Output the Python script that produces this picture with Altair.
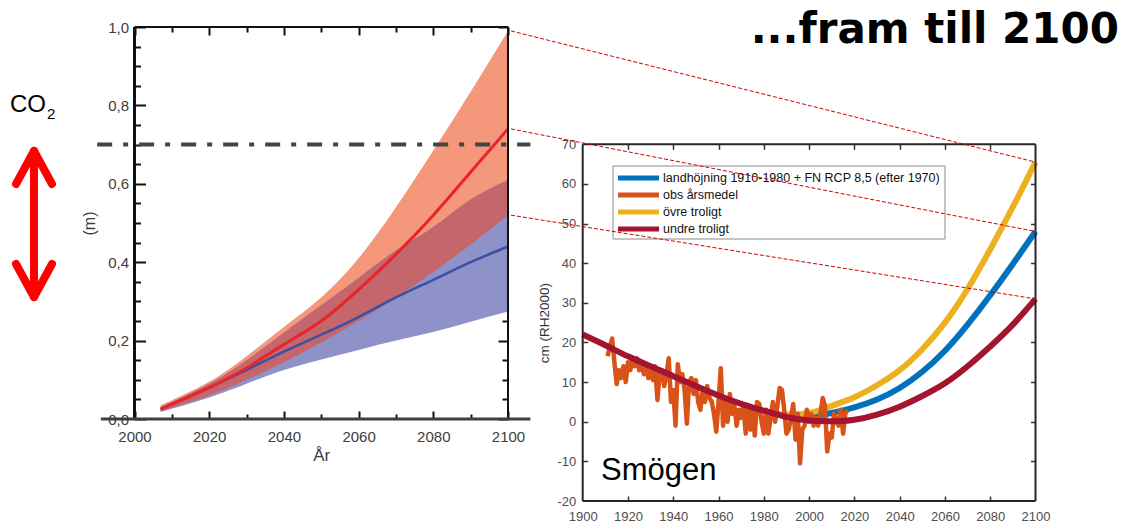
import altair as alt
import pandas as pd

W, H = 1127, 526

# ---------------- left panel: global sea level rise (m) ----------------
l_years   = [2007, 2020, 2030, 2040, 2050, 2060, 2070, 2080, 2090, 2100]
rcp85_mid = [0.025, 0.08, 0.13, 0.19, 0.25, 0.33, 0.42, 0.52, 0.63, 0.74]
rcp85_lo  = [0.02, 0.06, 0.10, 0.145, 0.195, 0.25, 0.31, 0.375, 0.445, 0.52]
rcp85_hi  = [0.035, 0.095, 0.16, 0.235, 0.31, 0.41, 0.54, 0.685, 0.835, 0.99]
rcp26_mid = [0.025, 0.08, 0.125, 0.172, 0.215, 0.26, 0.31, 0.355, 0.40, 0.44]
rcp26_lo  = [0.018, 0.055, 0.09, 0.125, 0.152, 0.176, 0.20, 0.222, 0.248, 0.274]
rcp26_hi  = [0.03, 0.09, 0.15, 0.22, 0.29, 0.36, 0.43, 0.49, 0.56, 0.61]
co2_level = 0.7

l_xticks_major = [2000, 2020, 2040, 2060, 2080, 2100]
l_xticks_minor = [2010, 2030, 2050, 2070, 2090]
l_yticks_major = [0.0, 0.2, 0.4, 0.6, 0.8, 1.0]
l_yticks_minor = [0.05, 0.1, 0.15, 0.25, 0.3, 0.35, 0.45, 0.5, 0.55,
                  0.65, 0.7, 0.75, 0.85, 0.9, 0.95]

# ---------------- right panel: Smögen (cm, RH2000) ----------------
undre_years = list(range(1900, 2101, 10))
undre = [22, 19.3, 16.5, 14, 11.5, 9, 6.6, 4.5, 2.8, 1.2, 0.3,
         0.1, 0.5, 1.8, 3.8, 6.5, 9.7, 14, 19, 24.5, 31]
ovre_years = [1985, 1990, 2000, 2010, 2020, 2030, 2040, 2050, 2060, 2070, 2080, 2090, 2100]
ovre = [2.0, 1.8, 2.2, 4.0, 6.2, 9.2, 13, 18.3, 25, 33.5, 43.5, 54.2, 65.5]
land_years = [1995, 2000, 2010, 2020, 2030, 2040, 2050, 2060, 2070, 2080, 2090, 2100]
land = [1.0, 1.3, 2.2, 3.6, 5.6, 8.5, 12.6, 17.9, 24.5, 31.9, 39.8, 48]
obs_years = list(range(1911, 2018))
obs = [16.5, 19, 21, 15, 9.5, 13, 11, 14, 10, 15,
       13, 16, 14, 16, 13, 15, 12, 14, 11, 13,
       10.5, 14, 5.5, 12, 13, 9, 12, 16, 5, 8,
       -1, 14.5, 10, 12, 8, -0.5, 10, 11, 7, 10.5,
       5, 3, 8, 5, 9, 6, 5, 2, -2.5, 5,
       13.5, -1, 6, 0, 7, 2, 4, -1, 3, 1,
       4, -3, 4, -2, 3, -3.5, 5, 4.5, 0, -3,
       3, -3, 1, 5, 0, 4, 8.5, 8, 3, -3,
       -2, 1, 4.5, -4.5, 2, -10.5, -2, -1, 3, 0,
       2, -1, 1, -1, 2, 6, 4, -7.5, -3, -4,
       2, 0.5, -1, 3, -3, 2, 3]

r_xticks = [1900, 1920, 1940, 1960, 1980, 2000, 2020, 2040, 2060, 2080, 2100]
r_yticks = [-20, -10, 0, 10, 20, 30, 40, 50, 60, 70]

legend_labels = ["landhöjning 1910-1980 + FN RCP 8,5 (efter 1970)",
                 "obs årsmedel", "övre troligt", "undre troligt"]
legend_colors = ["#0072BD", "#D95319", "#EDB120", "#A2142F"]

# ---------------- layout (pixel ranges of the two plot areas) ----------------
LXD, LXR = [2000, 2100], [134.5, 508.0]
LYD, LYR = [0, 1], [419.0, 27.0]
RXD, RXR = [1900, 2100], [582.7, 1035.5]
RYD, RYR = [-20, 70], [501.0, 144.3]
LXS = alt.Scale(domain=LXD, range=LXR, nice=False, zero=False)
LYS = alt.Scale(domain=LYD, range=LYR, nice=False, zero=False)
RXS = alt.Scale(domain=RXD, range=RXR, nice=False, zero=False)
RYS = alt.Scale(domain=RYD, range=RYR, nice=False, zero=False)


def lin(v, d, r):
    return r[0] + (v - d[0]) / (d[1] - d[0]) * (r[1] - r[0])


FONT = "Liberation Sans"

# ---------------- left panel layers ----------------
ldf = pd.DataFrame({
    "year": l_years, "m85": rcp85_mid, "lo85": rcp85_lo, "hi85": rcp85_hi,
    "m26": rcp26_mid, "lo26": rcp26_lo, "hi26": rcp26_hi,
})
ldf["ovlo"] = ldf[["lo85", "lo26"]].max(axis=1)
ldf["ovhi"] = ldf[["hi85", "hi26"]].min(axis=1)


def lxe(f, axis=None):
    return alt.X(f, type="quantitative", scale=LXS, axis=axis)


def lye(f, axis=None):
    return alt.Y(f, type="quantitative", scale=LYS, axis=axis)


def rxe(f, axis=None):
    return alt.X(f, type="quantitative", scale=RXS, axis=axis)


def rye(f, axis=None):
    return alt.Y(f, type="quantitative", scale=RYS, axis=axis)


SMOOTH = "natural"
band85 = alt.Chart(ldf).mark_area(color="#F4977A", interpolate=SMOOTH).encode(
    x=lxe("year"), y=lye("hi85"), y2="lo85")
band26 = alt.Chart(ldf).mark_area(color="#8E92C8", interpolate=SMOOTH).encode(
    x=lxe("year"), y=lye("hi26"), y2="lo26")
bandov = alt.Chart(ldf).mark_area(color="#C4666B", interpolate=SMOOTH).encode(
    x=lxe("year"), y=lye("ovhi"), y2="ovlo")
line26 = alt.Chart(ldf).mark_line(color="#3A50A6", strokeWidth=2.5, interpolate=SMOOTH).encode(
    x=lxe("year"), y=lye("m26"))
line85 = alt.Chart(ldf).mark_line(color="#E8232A", strokeWidth=3, interpolate=SMOOTH).encode(
    x=lxe("year"), y=lye("m85"))

l_yaxis = alt.Axis(orient="left", offset=-LXR[0], values=l_yticks_major,
                   labelExpr="replace(format(datum.value, '.1f'), '.', ',')",
                   domain=False, ticks=False, grid=False, labelFont=FONT,
                   labelFontSize=15, labelColor="#3d3d3d", labelPadding=6,
                   labelFlush=False, labelOverlap=False,
                   title="(m)", titleFont=FONT, titleFontSize=16,
                   titleFontWeight="normal", titleColor="#3d3d3d", titlePadding=10)
l_xaxis = alt.Axis(orient="bottom", offset=-(H - LYR[0]), values=l_xticks_major,
                   format="d", domain=False, ticks=False, grid=False,
                   labelFont=FONT, labelFontSize=15, labelColor="#3d3d3d",
                   labelPadding=10, labelFlush=False, labelOverlap=False,
                   title="År", titleFont=FONT, titleFontSize=17,
                   titleFontWeight="normal", titleColor="#3d3d3d", titlePadding=3)


def tick_axis(orient, at_px, values, size, color, width):
    """ticks-only axis placed on a frame line; the orient is chosen so the ticks point inward"""
    if orient == "right":
        off = at_px - W
    elif orient == "bottom":
        off = at_px - H
    else:  # left / top
        off = -at_px
    return alt.Axis(orient=orient, offset=off, values=values, labels=False,
                    domain=False, grid=False, ticks=True, tickSize=size,
                    tickColor=color, tickWidth=width, title=None)


def tick_layer(xe, ye, xmid, ymid, xaxis, yaxis):
    df = pd.DataFrame({"tx": [xmid], "ty": [ymid]})
    return alt.Chart(df).mark_point(opacity=0).encode(
        x=xe("tx", axis=xaxis), y=ye("ty", axis=yaxis))


TC = "#111111"
lt = [
    # left frame (ticks point right) + top frame (ticks point down)
    tick_layer(lxe, lye, 2050, 0.5,
               tick_axis("bottom", LYR[1], l_xticks_major, 8, TC, 2),
               tick_axis("right", LXR[0], l_yticks_major, 11, TC, 2)),
    tick_layer(lxe, lye, 2050, 0.5,
               tick_axis("bottom", LYR[1], l_xticks_minor, 5, TC, 2),
               tick_axis("right", LXR[0], l_yticks_minor, 6, TC, 2)),
    # right frame (ticks point left) + bottom frame (ticks point up)
    tick_layer(lxe, lye, 2050, 0.5,
               tick_axis("top", LYR[0], l_xticks_major, 8, TC, 2),
               tick_axis("left", LXR[1], l_yticks_major, 10, TC, 2)),
    tick_layer(lxe, lye, 2050, 0.5,
               tick_axis("top", LYR[0], l_xticks_minor, 5, TC, 2),
               tick_axis("left", LXR[1], l_yticks_minor, 6, TC, 2)),
]

# axis labels of the left panel
l_ylab = alt.Chart(pd.DataFrame({"v": l_yticks_major, "x": [2000] * 6})).mark_point(
    opacity=0).encode(x=lxe("x"), y=lye("v", axis=l_yaxis))
l_xlab = alt.Chart(pd.DataFrame({"v": l_xticks_major, "y": [0.0] * 6})).mark_point(
    opacity=0).encode(y=lye("y"), x=lxe("v", axis=l_xaxis))

one = pd.DataFrame({"d": [0]})
lframe_df = pd.DataFrame({"x0": [2000], "x1": [2100], "y0": [0.0], "y1": [1.0],
                          "bx0": [1991], "bx1": [2106], "cx0": [1990], "cx1": [2106],
                          "co2": [co2_level]})
lf_left = alt.Chart(lframe_df).mark_rule(color="#111111", strokeWidth=3).encode(
    x=lxe("x0"), y=lye("y0"), y2="y1")
lf_right = alt.Chart(lframe_df).mark_rule(color="#111111", strokeWidth=2).encode(
    x=lxe("x1"), y=lye("y0"), y2="y1")
lf_top = alt.Chart(lframe_df).mark_rule(color="#111111", strokeWidth=2).encode(
    y=lye("y1"), x=lxe("x0"), x2="x1")
lf_bot = alt.Chart(lframe_df).mark_rule(color="#3f3f3f", strokeWidth=3).encode(
    y=lye("y0"), x=lxe("bx0"), x2="bx1")
co2_line = alt.Chart(lframe_df).mark_rule(color="#444444", strokeWidth=4,
                                          strokeDash=[15, 11, 5, 11]).encode(
    y=lye("co2"), x=lxe("cx0"), x2="cx1")

# red double arrow and CO2 label
arrow_segs = [
    (34, 152, 34, 296),
    (34, 151, 16, 184), (34, 151, 52, 184),
    (34, 297, 16, 264), (34, 297, 52, 264),
]
arrow = [
    alt.Chart(one).mark_rule(color="#FF0000", strokeWidth=8, strokeCap="round").encode(
        x=alt.value(a), y=alt.value(b), x2=alt.value(c), y2=alt.value(d))
    for a, b, c, d in arrow_segs
]
co2_txt = alt.Chart(pd.DataFrame({"t": ["CO"]})).mark_text(
    align="left", baseline="alphabetic", font=FONT, fontSize=24, color="#000000").encode(
    x=alt.value(10), y=alt.value(112), text="t:N")
co2_sub = alt.Chart(pd.DataFrame({"t": ["2"]})).mark_text(
    align="left", baseline="alphabetic", font=FONT, fontSize=15, color="#000000").encode(
    x=alt.value(47), y=alt.value(119), text="t:N")

# ---------------- right panel layers ----------------
undf = pd.DataFrame({"year": undre_years, "v": undre})
ovdf = pd.DataFrame({"year": ovre_years, "v": ovre})
lndf = pd.DataFrame({"year": land_years, "v": land})
obdf = pd.DataFrame({"year": obs_years, "v": obs})

r_land = alt.Chart(lndf).mark_line(color=legend_colors[0], strokeWidth=6,
                                   interpolate=SMOOTH).encode(x=rxe("year"), y=rye("v"))
r_ovre = alt.Chart(ovdf).mark_line(color=legend_colors[2], strokeWidth=6,
                                   interpolate=SMOOTH).encode(x=rxe("year"), y=rye("v"))
r_obs = alt.Chart(obdf).mark_line(color=legend_colors[1], strokeWidth=4.5,
                                  strokeJoin="round").encode(x=rxe("year"), y=rye("v"))
r_undre = alt.Chart(undf).mark_line(color=legend_colors[3], strokeWidth=6,
                                    interpolate=SMOOTH).encode(x=rxe("year"), y=rye("v"))

r_yaxis = alt.Axis(orient="left", offset=-RXR[0], values=r_yticks,
                   labelExpr="'' + datum.value", domain=False, ticks=False, grid=False,
                   labelFont=FONT, labelFontSize=13, labelColor="#4d4d4d", labelPadding=7,
                   labelFlush=False, labelOverlap=False,
                   title="cm (RH2000)", titleFont=FONT, titleFontSize=13.5,
                   titleFontWeight="normal", titleColor="#333333", titlePadding=5)
r_xaxis = alt.Axis(orient="bottom", offset=-(H - RYR[0]), values=r_xticks, format="d",
                   domain=False, ticks=False, grid=False, labelFont=FONT,
                   labelFontSize=13, labelColor="#4d4d4d", labelPadding=9,
                   labelFlush=False, labelOverlap=False, title=None)

RC = "#333333"
rt = [
    tick_layer(rxe, rye, 2000, 25,
               tick_axis("bottom", RYR[1], r_xticks[1:-1], 5, RC, 1.5),
               tick_axis("right", RXR[0], r_yticks[1:-1], 5, RC, 1.5)),
    tick_layer(rxe, rye, 2000, 25,
               tick_axis("top", RYR[0], r_xticks[1:-1], 5, RC, 1.5),
               tick_axis("left", RXR[1], r_yticks[1:-1], 5, RC, 1.5)),
]
r_ylab = alt.Chart(pd.DataFrame({"v": r_yticks, "x": [1900] * len(r_yticks)})).mark_point(
    opacity=0).encode(x=rxe("x"), y=rye("v", axis=r_yaxis))
r_xlab = alt.Chart(pd.DataFrame({"v": r_xticks, "y": [-20] * len(r_xticks)})).mark_point(
    opacity=0).encode(y=rye("y"), x=rxe("v", axis=r_xaxis))

rframe_df = pd.DataFrame({"x0": [1900], "x1": [2100], "y0": [-20], "y1": [70]})
rf = [
    alt.Chart(rframe_df).mark_rule(color="#262626", strokeWidth=2).encode(
        x=rxe("x0"), y=rye("y0"), y2="y1"),
    alt.Chart(rframe_df).mark_rule(color="#262626", strokeWidth=2).encode(
        x=rxe("x1"), y=rye("y0"), y2="y1"),
    alt.Chart(rframe_df).mark_rule(color="#262626", strokeWidth=2).encode(
        y=rye("y0"), x=rxe("x0"), x2="x1"),
    alt.Chart(rframe_df).mark_rule(color="#262626", strokeWidth=2).encode(
        y=rye("y1"), x=rxe("x0"), x2="x1"),
]

# legend (drawn by hand, MATLAB style box)
legdf = pd.DataFrame({"row": [0, 1, 2, 3], "label": legend_labels})
ROWS = alt.Scale(domain=[0, 3], range=[178, 229], nice=False, zero=False)
leg_box = alt.Chart(one).mark_rect(fill="white", stroke="#8a8a8a", strokeWidth=1).encode(
    x=alt.value(613), x2=alt.value(945), y=alt.value(166), y2=alt.value(239))
leg_lines = alt.Chart(legdf).mark_rule(strokeWidth=5).encode(
    x=alt.value(618), x2=alt.value(659),
    y=alt.Y("row:Q", scale=ROWS, axis=None),
    color=alt.Color("label:N", scale=alt.Scale(domain=legend_labels, range=legend_colors),
                    legend=None))
leg_text = alt.Chart(legdf).mark_text(align="left", baseline="middle", font=FONT,
                                      fontSize=12.5, color="#111111").encode(
    x=alt.value(663), y=alt.Y("row:Q", scale=ROWS, axis=None), text="label:N")

smogen = alt.Chart(pd.DataFrame({"t": ["Smögen"]})).mark_text(
    align="left", baseline="alphabetic", font=FONT, fontSize=31, color="#000000").encode(
    x=alt.value(601), y=alt.value(480), text="t:N")

title = alt.Chart(pd.DataFrame({"t": ["...fram till 2100"]})).mark_text(
    align="right", baseline="alphabetic", font="DejaVu Sans", fontWeight="bold",
    fontSize=42, color="#000000").encode(
    x=alt.value(1119), y=alt.value(43), text="t:N")

# dashed connectors: end of the global projections -> end of the Smögen projections
left_ends = [rcp85_hi[-1], rcp85_mid[-1], rcp85_lo[-1]]
right_ends = [ovre[-1], land[-1], undre[-1]]
connectors = []
for lv, rv in zip(left_ends, right_ends):
    x1 = lin(2100, LXD, LXR) + 3
    y1 = lin(lv, LYD, LYR)
    x2 = lin(2100, RXD, RXR)
    y2 = lin(rv, RYD, RYR)
    connectors.append(
        alt.Chart(one).mark_rule(color="#D10000", strokeWidth=1, strokeDash=[4, 2]).encode(
            x=alt.value(x1), y=alt.value(y1), x2=alt.value(x2), y2=alt.value(y2)))

layers = ([band85, band26, bandov, line26, line85, l_ylab, l_xlab] + lt
          + [lf_left, lf_right, lf_top, lf_bot, co2_line] + arrow + [co2_txt, co2_sub]
          + [r_land, r_ovre, r_obs, r_undre, r_ylab, r_xlab] + rt + rf
          + [leg_box, leg_lines, leg_text, smogen] + connectors + [title])

chart = alt.layer(*layers).resolve_scale(
    x="independent", y="independent", color="independent"
).properties(
    width=W, height=H, padding=0,
    autosize=alt.AutoSizeParams(type="none"),
    background="white",
).configure_view(stroke=None)

chart.save("out.html", embed_options={"renderer": "svg", "actions": False})
